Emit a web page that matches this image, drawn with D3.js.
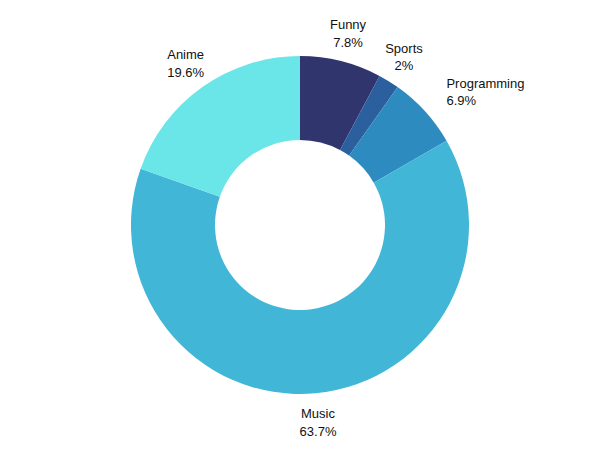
<!DOCTYPE html>
<html>
<head>
<meta charset="utf-8">
<script src="https://cdn.jsdelivr.net/npm/d3@7"></script>
<style>
  body { margin: 0; background: #fff; }
  text { font-family: "Liberation Sans", Arial, sans-serif; font-size: 13px; fill: #111; }
</style>
</head>
<body>
<div id="chart"></div>
<script>
  var categories = ['Funny', 'Sports', 'Programming', 'Music', 'Anime'];
  var values = [7.8, 2, 6.9, 63.7, 19.6];
  var colors = ['#31356e', '#2c5f9e', '#2e8bbf', '#41b6d6', '#6ae5e8'];

  var width = 600, height = 450;
  var cx = 300, cy = 225, outer = 169, inner = 85, labelR = 198;

  var data = categories.map(function (c, i) { return { name: c, value: values[i], color: colors[i] }; });

  var svg = d3.select('#chart').append('svg').attr('width', width).attr('height', height);
  var g = svg.append('g').attr('transform', 'translate(' + cx + ',' + cy + ')');

  var pie = d3.pie().sort(null).value(function (d) { return d.value; });
  var arc = d3.arc().innerRadius(inner).outerRadius(outer);
  var arcs = pie(data);

  g.selectAll('path').data(arcs).join('path')
    .attr('d', arc)
    .attr('fill', function (d) { return d.data.color; });

  var label = g.selectAll('text').data(arcs).join('text')
    .attr('transform', function (d) {
      var a = (d.startAngle + d.endAngle) / 2;
      return 'translate(' + (labelR * Math.sin(a)) + ',' + (-labelR * Math.cos(a)) + ')';
    })
    .attr('text-anchor', function (d) {
      var s = Math.sin((d.startAngle + d.endAngle) / 2);
      return s > 0.7 ? 'start' : (s < -0.7 ? 'end' : 'middle');
    });
  label.append('tspan').attr('x', 0).attr('dy', '-0.3em').text(function (d) { return d.data.name; });
  label.append('tspan').attr('x', 0).attr('dy', '1.35em').text(function (d) { return d.data.value + '%'; });
</script>
</body>
</html>
